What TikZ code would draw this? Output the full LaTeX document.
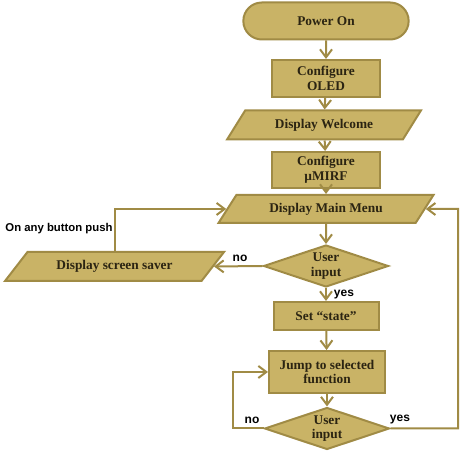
\documentclass[tikz,border=0pt]{standalone}
\usepackage{fontspec}
\setmainfont{Liberation Serif}
\setsansfont{Liberation Sans}
\usetikzlibrary{shapes.geometric,shapes.misc,arrows.meta}

\definecolor{boxfill}{HTML}{C9B366}
\definecolor{boxline}{HTML}{A08B45}
\definecolor{boxtext}{HTML}{2B2412}

\tikzset{
	flowbox/.style={draw=boxline,fill=boxfill,line width=1.5pt,text=boxtext,font=\bfseries\fontsize{10}{11}\selectfont,align=center,inner sep=1pt},
	procbox/.style={flowbox,rectangle},
	iobox/.style={flowbox,trapezium,trapezium left angle=52,trapezium right angle=128,trapezium stretches=true},
	askbox/.style={flowbox,diamond,aspect=3,inner sep=0pt},
	startbox/.style={flowbox,rounded rectangle},
	flow/.style={draw=boxline,line width=1.5pt,-{Straight Barb[length=6pt,width=9pt]}},
	tag/.style={font=\sffamily\bfseries\fontsize{9}{10}\selectfont,text=black,inner sep=0pt}
}

\begin{document}
\begin{tikzpicture}[x=0.75pt,y=-0.75pt]
				\useasboundingbox (0,0) rectangle (465,463);
				\node [startbox,minimum width=126pt,minimum height=27.75pt] (power) at (326,21) {Power On};
				\node [procbox,minimum width=81pt,minimum height=27.75pt] (oled) at (326,78.5) {Configure\\OLED};
				\node [iobox,minimum width=146.25pt,minimum height=21.75pt] (welcome) at (324,125) {Display Welcome};
				\node [procbox,minimum width=81pt,minimum height=27pt] (mirf) at (326,170) {Configure\\µMIRF};
				\node [iobox,minimum width=161.25pt,minimum height=21pt] (menu) at (326,209) {Display Main Menu};
				\node [askbox,minimum width=93.75pt,minimum height=31.5pt] (ask1) at (326,266) {User\\input};
				\node [iobox,minimum width=164.25pt,minimum height=21.75pt,trapezium left angle=44,trapezium right angle=136] (saver) at (114.5,266.5) {Display screen saver};
				\node [procbox,minimum width=78.75pt,minimum height=21pt] (state) at (326,316) {Set ``state''};
				\node [procbox,minimum width=87pt,minimum height=31.5pt] (jump) at (327,372) {Jump to selected\\function};
				\node [askbox,minimum width=93.75pt,minimum height=31.5pt] (ask2) at (327,428.5) {User\\input};
				\coordinate (lloop) at (233,372);
				\coordinate (rloop) at (458,209);
				\draw [flow] (power) -- (oled);
				\draw [flow] (oled) -- (welcome);
				\draw [flow] (welcome) -- (mirf);
				\draw [flow] (mirf) -- (menu);
				\draw [flow] (menu) -- (ask1);
				\draw [flow] (ask1) -- (state);
				\draw [flow] (state) -- (jump);
				\draw [flow] (jump) -- (ask2);
				\draw [flow] (ask1.west) -- (saver.east);
				\draw [flow] (saver.north) |- (menu.west);
				\draw [flow] (ask2.west) -| (lloop) -- (jump.west);
				\draw [flow] (ask2.east) -| (rloop) -- (menu.east);
				\node [tag] (no1) at (240,258) {no};
				\node [tag] (yes1) at (344,295) {yes};
				\node [tag] (no2) at (252,420) {no};
				\node [tag] (yes2) at (400,420) {yes};
				\node [tag,font=\sffamily\bfseries\fontsize{8.5}{10}\selectfont] (push) at (59,229) {On any button push};
			\end{tikzpicture}
\end{document}
